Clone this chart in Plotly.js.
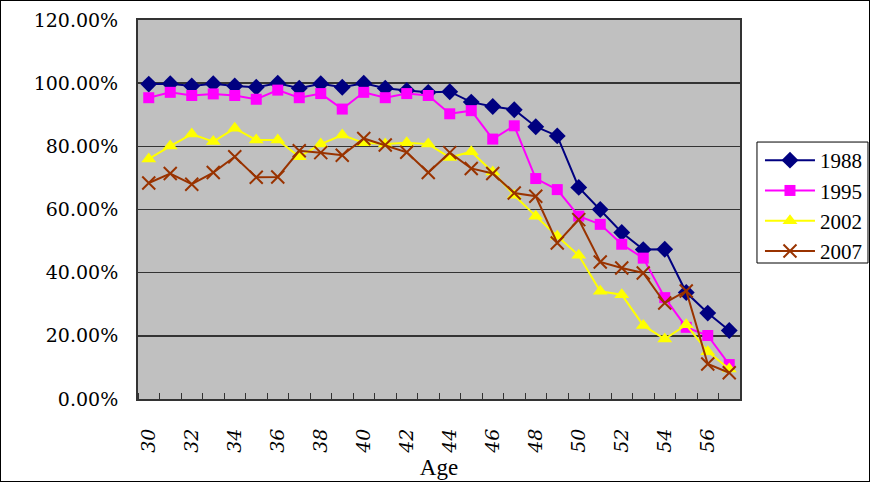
<!DOCTYPE html>
<html>
<head>
<meta charset="utf-8">
<script src="https://cdn.plot.ly/plotly-3.0.1.min.js"></script>
<style>
html,body{margin:0;padding:0;background:#fff;}
#chart{width:868px;height:480px;border:1px solid #000;}
</style>
</head>
<body>
<div id="chart"></div>
<script>
var ages = [30,31,32,33,34,35,36,37,38,39,40,41,42,43,44,45,46,47,48,49,50,51,52,53,54,55,56,57];
var s1988 = [0.997,0.998,0.991,0.998,0.991,0.987,1.000,0.984,0.998,0.987,1.000,0.984,0.977,0.971,0.973,0.940,0.926,0.916,0.862,0.833,0.670,0.600,0.527,0.473,0.474,0.337,0.272,0.217];
var s1995 = [0.954,0.971,0.961,0.966,0.961,0.949,0.978,0.954,0.967,0.918,0.971,0.954,0.967,0.961,0.903,0.913,0.823,0.865,0.698,0.663,0.579,0.553,0.490,0.446,0.321,0.227,0.201,0.109];
var s2002 = [0.760,0.801,0.839,0.815,0.857,0.820,0.820,0.767,0.807,0.836,0.811,0.807,0.811,0.807,0.765,0.783,0.719,0.645,0.579,0.515,0.455,0.341,0.330,0.233,0.190,0.235,0.150,0.095];
var s2007 = [0.684,0.714,0.680,0.717,0.767,0.702,0.703,0.786,0.780,0.772,0.825,0.804,0.781,0.717,0.780,0.730,0.714,0.652,0.642,0.494,0.568,0.434,0.415,0.399,0.304,0.342,0.111,0.083];
var seriesNames = ['1988','1995','2002','2007'];
var yTickVals = [0,0.2,0.4,0.6,0.8,1.0,1.2];
var xTickVals = [30,32,34,36,38,40,42,44,46,48,50,52,54,56];

var serif = 'Liberation Serif, DejaVu Serif, serif';
var traces = [
  {x: ages, y: s1988, name: seriesNames[0], mode: 'lines+markers', type: 'scatter',
   line: {color: '#000080', width: 2}, marker: {symbol: 'diamond', size: 13, color: '#000080'}},
  {x: ages, y: s1995, name: seriesNames[1], mode: 'lines+markers', type: 'scatter',
   line: {color: '#FF00FF', width: 2}, marker: {symbol: 'square', size: 11, color: '#FF00FF'}},
  {x: ages, y: s2002, name: seriesNames[2], mode: 'lines+markers', type: 'scatter',
   line: {color: '#FFFF00', width: 2}, marker: {symbol: 'triangle-up', size: 13, color: '#FFFF00'}},
  {x: ages, y: s2007, name: seriesNames[3], mode: 'lines+markers', type: 'scatter',
   line: {color: '#993300', width: 2}, marker: {symbol: 'x-thin-open', size: 13, line: {color: '#993300', width: 2}}}
];

var layout = {
  width: 868, height: 480,
  margin: {l: 137, r: 129, t: 19, b: 82},
  paper_bgcolor: '#ffffff',
  plot_bgcolor: '#c0c0c0',
  showlegend: true,
  legend: {
    xref: 'container', yref: 'container',
    x: 0.8744, y: 0.7104, xanchor: 'left', yanchor: 'top',
    bgcolor: 'rgba(0,0,0,0)', borderwidth: 0,
    font: {family: serif, size: 21, color: '#000'},
    itemwidth: 50
  },
  shapes: [
    {type: 'rect', xref: 'paper', yref: 'paper', x0: 1.0282, x1: 1.2126, y0: 0.3588, y1: 0.678,
     fillcolor: '#ffffff', line: {color: '#000', width: 1}, layer: 'above'}
  ],
  xaxis: {
    range: [29.5, 57.5],
    tickmode: 'array', tickvals: xTickVals, ticktext: xTickVals.map(String),
    tickangle: -90,
    ticks: '', showgrid: false, zeroline: false,
    showline: true, linecolor: '#333', linewidth: 2, mirror: true,
    tickfont: {family: 'DejaVu Serif, serif', size: 19, color: '#000', style: 'italic'},
    ticklabelstandoff: 20,
    minor: {tick0: 29.5, dtick: 1, ticks: 'inside', ticklen: 6, tickcolor: '#333', showgrid: false},
    title: {text: 'Age', font: {family: serif, size: 23, color: '#000'}, standoff: 6}
  },
  yaxis: {
    range: [0, 1.2],
    tickmode: 'array', tickvals: yTickVals,
    tickformat: '.2%',
    ticks: '', showgrid: true, gridcolor: '#333', gridwidth: 1.5, zeroline: false,
    showline: true, linecolor: '#333', linewidth: 2, mirror: true,
    tickfont: {family: 'DejaVu Serif, serif', size: 19, color: '#000'},
    ticklabelstandoff: 14
  }
};

Plotly.newPlot('chart', traces, layout, {displayModeBar: false, staticPlot: true});
</script>
</body>
</html>
